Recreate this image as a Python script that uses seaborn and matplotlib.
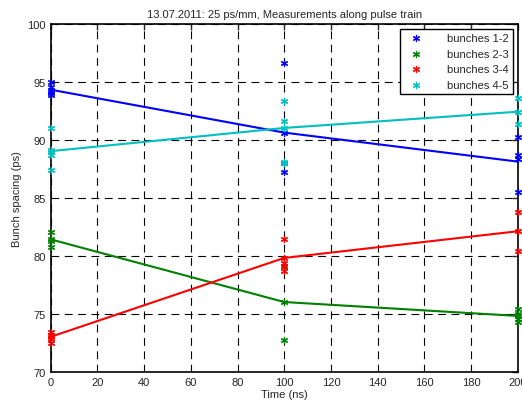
import seaborn as sns
import matplotlib
matplotlib.use("Agg")
import matplotlib.pyplot as plt
import pandas as pd

times = [0, 100, 200]

time_12 = [0, 0, 0, 0, 0, 100, 100, 100, 100, 200, 200, 200, 200]
spacing_12 = [95.0, 94.5, 94.2, 94.0, 93.8, 96.6, 90.6, 88.0, 87.2, 90.2, 88.7, 88.3, 85.5]
mean_12 = [94.3, 90.6, 88.1]

time_23 = [0, 0, 0, 0, 100, 100, 100, 200, 200, 200, 200, 200]
spacing_23 = [82.0, 81.4, 81.3, 80.7, 79.0, 76.0, 72.7, 75.4, 75.0, 74.8, 74.5, 74.3]
mean_23 = [81.4, 76.0, 74.8]

time_34 = [0, 0, 0, 0, 0, 100, 100, 100, 100, 100, 200, 200, 200]
spacing_34 = [73.4, 73.2, 73.0, 72.8, 72.5, 81.4, 79.8, 79.4, 79.1, 78.7, 83.8, 82.1, 80.4]
mean_34 = [73.0, 79.8, 82.1]

time_45 = [0, 0, 0, 0, 0, 100, 100, 100, 100, 100, 200, 200, 200]
spacing_45 = [91.0, 89.1, 88.9, 88.7, 87.4, 93.3, 91.6, 91.0, 88.1, 88.0, 93.6, 92.4, 91.3]
mean_45 = [89.0, 91.0, 92.4]

labels = ["bunches 1-2", "bunches 2-3", "bunches 3-4", "bunches 4-5"]
colors = ["#0000FF", "#008000", "#FF0000", "#00BFBF"]

sns.set_style("white")
plt.rcParams["font.family"] = ["Liberation Sans", "DejaVu Sans"]
plt.rcParams["font.size"] = 8

series = [(time_12, spacing_12, mean_12), (time_23, spacing_23, mean_23),
          (time_34, spacing_34, mean_34), (time_45, spacing_45, mean_45)]

fig = plt.figure(figsize=(5.22, 4.02), dpi=100)
ax = fig.add_axes([0.097, 0.073, 0.895, 0.866])

for (t, s, m), lab, col in zip(series, labels, colors):
    pts = pd.DataFrame({"time": t, "spacing": s})
    means = pd.DataFrame({"time": times, "spacing": m})
    sns.lineplot(data=means, x="time", y="spacing", color=col, linewidth=1.5,
                 ax=ax, legend=False, clip_on=False)
    sns.scatterplot(data=pts, x="time", y="spacing", color=col, marker=(6, 2, 0),
                    s=20, linewidth=0.9, edgecolor=col, ax=ax, label=lab,
                    clip_on=False, zorder=3)

ax.set_xlim(0, 200)
ax.set_ylim(70, 100)
ax.set_xticks(range(0, 201, 20))
ax.set_yticks(range(70, 101, 5))
ax.grid(True, color="black", linestyle=(0, (7, 5)), linewidth=0.8)
ax.tick_params(direction="in", length=4, width=1, top=True, right=True, labelsize=8)
for sp in ax.spines.values():
    sp.set_color("black")
    sp.set_linewidth(1.2)

ax.set_xlabel("Time (ns)", fontsize=8, labelpad=2)
ax.set_ylabel("Bunch spacing (ps)", fontsize=8, labelpad=4)
ax.set_title("13.07.2011: 25 ps/mm, Measurements along pulse train", fontsize=8, pad=5)

leg = ax.legend(loc="upper right", fontsize=8, frameon=True, fancybox=False,
                framealpha=1, edgecolor="black", borderaxespad=0.45,
                handletextpad=1.8, markerscale=1)
leg.get_frame().set_linewidth(1)

fig.savefig("out.png", dpi=100)
